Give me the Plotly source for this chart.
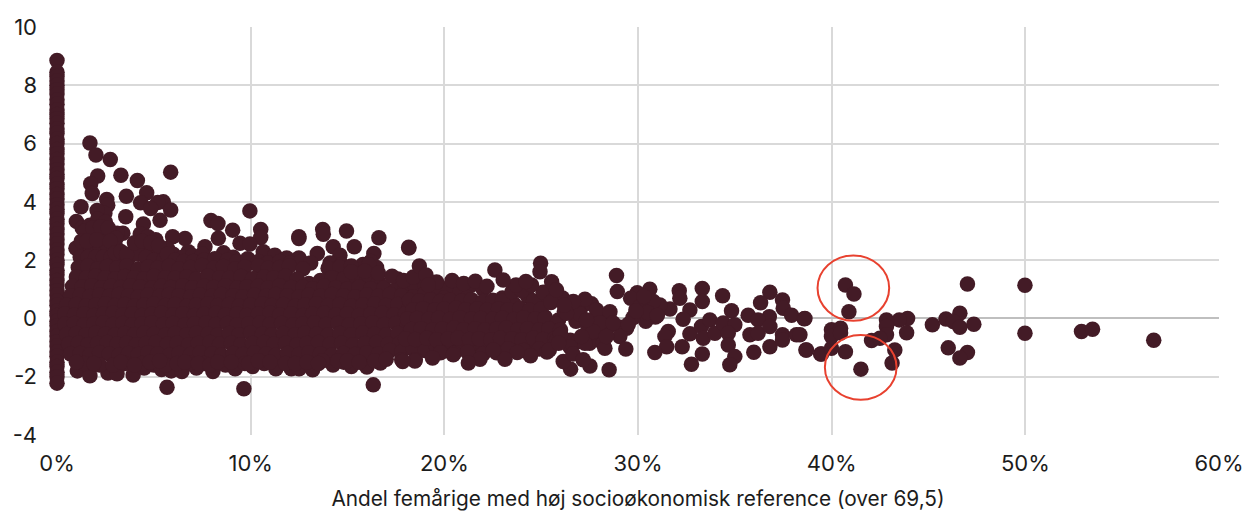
import plotly.graph_objects as go

x_tick_vals = [0, 10, 20, 30, 40, 50, 60]
x_tick_text = ["0%", "10%", "20%", "30%", "40%", "50%", "60%"]
y_tick_vals = [-4, -2, 0, 2, 4, 6, 8, 10]
y_tick_text = ["-4", "-2", "0", "2", "4", "6", "8", "10"]
x_title = "Andel femårige med høj socioøkonomisk reference (over 69,5)"

# schools with no share at all: the column at 0%
y_zero = [8.85, 8.45, 8.3, 8.15, 8.0, 7.85, 7.7, 7.5, 7.35, 7.15, 7.0, 6.85, 6.7, 6.5, 6.35, 6.15, 6.0, 5.8,
          5.65, 5.45, 5.3, 5.1, 4.95, 4.8, 4.6, 4.45, 4.25, 4.1, 3.9, 3.75, 3.6, 3.4, 3.25, 3.05, 2.9, 2.7,
          2.55, 2.35, 2.2, 2.0, 1.85, 1.65, 1.5, 1.3, 1.15, 0.95, 0.8, 0.6, 0.45, 0.25, 0.1, -0.1, -0.25, -0.45,
          -0.6, -0.8, -0.95, -1.15, -1.3, -1.5, -1.65, -1.85, -2.0, -2.22]
x_zero = [0] * len(y_zero)

# isolated points above the main mass
x_upper = [1.70, 2.01, 2.75, 2.10, 1.74, 1.82, 3.30, 4.15, 5.87, 4.63, 3.58, 2.57, 4.32, 5.49, 5.2, 2.62, 1.24, 4.84,
           5.87, 3.55, 5.32, 2.47, 2.07, 9.96, 7.95, 8.31, 9.07, 10.52, 10.52, 1.0, 4.46, 2.4, 13.72, 13.75, 14.95,
           12.49, 12.49, 16.62, 18.17, 14.26, 15.35, 16.36, 13.44, 14.61, 10.65, 11.25, 11.86, 12.49, 9.96, 6.61,
           5.97, 7.64, 8.33, 9.45, 9.96, 6.78, 3.4, 3.1]
y_upper = [6.02, 5.61, 5.45, 4.89, 4.62, 4.29, 4.91, 4.73, 5.02, 4.31, 4.19, 4.08, 3.97, 4.00, 3.98, 3.88, 3.83, 3.77,
           3.72, 3.49, 3.37, 3.6, 3.7, 3.69, 3.36, 3.26, 3.03, 3.05, 2.78, 3.33, 3.24, 3.1, 3.05, 2.89, 3.0,
           2.8, 2.74, 2.77, 2.42, 2.46, 2.46, 2.23, 2.23, 2.17, 2.29, 2.17, 2.07, 2.07, 1.94, 2.74,
           2.8, 2.46, 2.75, 2.58, 2.55, 2.29, 2.92, 2.92]

# left top cluster
x_cluster = [1.3, 1.7, 2.1, 2.5, 1.5, 1.9, 2.3, 2.7, 3.0, 1.4, 1.8, 2.2, 2.6, 0.98, 3.7, 1.2, 1.6, 2.0, 2.4, 2.8, 3.2,
             4.3, 4.7, 5.1, 4.5, 4.9, 5.3, 5.7, 4.2, 4.6, 5.0, 5.5, 6.0, 6.5, 7.0, 7.5, 8.0, 8.6, 9.1, 6.3, 7.2, 8.4,
             1.45, 1.85, 2.25, 2.65, 3.05, 1.25, 1.55, 2.05, 2.75, 3.0, 3.3, 3.6, 4.0, 4.4, 4.85, 5.25, 5.7, 6.1, 6.55,
             7.05, 7.6, 8.15, 8.8, 9.3, 9.85, 10.4, 10.9, 11.5, 12.05, 12.6, 13.1, 14.1, 14.7, 15.8, 16.2, 16.5]
y_cluster = [3.1, 3.2, 3.4, 3.3, 2.8, 2.9, 2.9, 2.9, 2.5, 2.45, 2.5, 2.5, 2.5, 2.41, 2.07, 2.1, 2.1, 2.1, 2.1, 2.1, 2.0,
             2.9, 2.8, 2.7, 2.5, 2.4, 2.3, 2.4, 2.2, 2.1, 2.0, 2.0, 2.2, 2.1, 2.15, 2.2, 2.0, 2.25, 2.1, 1.9, 1.85, 1.9,
             3.0, 3.1, 3.15, 3.1, 2.75, 2.65, 2.65, 2.7, 2.65, 2.25, 2.3, 2.2, 2.6, 2.65, 2.6, 2.5, 2.2, 2.0, 1.95,
             1.95, 2.0, 2.05, 2.0, 1.95, 2.05, 1.95, 1.9, 1.95, 1.9, 1.95, 1.9, 1.9, 1.85, 1.85, 1.95, 1.75]

# main mass, read band by band from top to bottom
x_mass_a = [1.1, 1.6, 2.1, 2.6, 3.1, 3.6, 4.2, 4.7, 5.2, 5.8, 6.3, 6.9, 7.5, 8.1, 8.6, 9.2, 9.7, 10.4, 10.9, 11.5,
            12.0, 12.7, 14.0, 14.6, 15.2, 16.1, 1.0, 1.5, 2.0, 2.5, 3.0, 3.5, 4.0, 4.5, 5.0, 5.6, 6.1, 6.7, 7.2,
            7.8, 8.4, 8.9, 9.5, 10.1, 10.7, 11.2, 11.8, 12.4, 13.0, 13.6, 14.2, 14.8, 15.5, 16.0, 16.6, 17.6]
y_mass_a = [1.75, 1.8, 1.7, 1.78, 1.72, 1.8, 1.7, 1.76, 1.72, 1.8, 1.7, 1.75, 1.82, 1.72, 1.78, 1.7, 1.76, 1.8, 1.72,
            1.75, 1.8, 1.7, 1.72, 1.76, 1.8, 1.83, 1.42, 1.38, 1.45, 1.4, 1.35, 1.44, 1.4, 1.36, 1.45, 1.4, 1.38, 1.42,
            1.35, 1.45, 1.4, 1.38, 1.44, 1.36, 1.42, 1.4, 1.45, 1.35, 1.2, 1.3, 1.4, 1.35, 1.3, 1.38, 1.25, 1.35]
x_mass_b = [0.8, 1.3, 1.8, 2.3, 2.8, 3.3, 3.8, 4.3, 4.9, 5.4, 5.9, 6.5, 7.0, 7.6, 8.1, 8.7, 9.3, 9.8, 10.4, 10.9,
            11.5, 12.1, 12.7, 13.2, 13.8, 14.4, 15.0, 15.6, 16.2, 16.9, 17.5, 18.0, 18.5, 19.0, 0.7, 1.2, 1.7, 2.2,
            2.7, 3.2, 3.7, 4.2, 4.7, 5.3, 5.8, 6.3, 6.9, 7.4, 8.0, 8.5, 9.1, 9.6, 10.2, 10.8, 11.3, 11.9, 12.5,
            13.0, 13.6, 14.2, 14.8, 15.4, 16.0, 16.6, 17.2, 17.8, 18.4, 19.0, 19.6, 20.2, 20.8, 21.4, 22.0]
y_mass_b = [1.1, 1.08, 1.12, 1.05, 1.1, 1.06, 1.12, 1.08, 1.04, 1.1, 1.06, 1.12, 1.05, 1.1, 1.06, 1.12, 1.04, 1.08, 1.1,
            1.05, 1.12, 1.06, 1.08, 1.02, 1.1, 1.05, 1.0, 1.08, 1.02, 1.05, 0.98, 1.05, 1.1, 1.15, 0.78, 0.8, 0.75, 0.8,
            0.76, 0.82, 0.78, 0.74, 0.8, 0.76, 0.82, 0.78, 0.74, 0.8, 0.76, 0.82, 0.78, 0.74, 0.8, 0.76, 0.82, 0.78, 0.74,
            0.8, 0.76, 0.82, 0.78, 0.74, 0.8, 0.76, 0.82, 0.78, 0.74, 0.85, 0.95, 1.05, 0.9, 1.15, 1.0]
x_mass_c = [0.5, 1.0, 1.5, 2.0, 2.5, 3.0, 3.5, 4.0, 4.5, 5.0, 5.6, 6.1, 6.7, 7.2, 7.8, 8.3, 8.9, 9.4, 10.0, 10.6,
            11.1, 11.7, 12.3, 12.8, 13.4, 14.0, 14.6, 15.2, 15.8, 16.4, 17.0, 17.6, 18.2, 18.8, 19.4, 20.0, 20.6,
            21.2, 21.8, 22.4, 23.0, 23.6, 24.3, 24.9, 25.5, 0.4, 0.9, 1.4, 1.9, 2.4, 2.9, 3.4, 3.9, 4.4, 4.9, 5.4,
            6.0, 6.5, 7.1, 7.6, 8.2, 8.7, 9.3, 9.8, 10.4, 11.0, 11.5, 12.1, 12.7, 13.2, 13.8, 14.4, 15.0, 15.6,
            16.2, 16.8, 17.4, 18.0, 18.6, 19.2, 19.8, 20.4, 21.0, 21.6, 22.2, 22.8, 23.4, 24.0, 24.6, 25.2]
y_mass_c = [0.45, 0.48, 0.42, 0.46, 0.5, 0.44, 0.48, 0.42, 0.46, 0.5, 0.44, 0.48, 0.42, 0.46, 0.5, 0.44, 0.48, 0.42, 0.46,
            0.5, 0.44, 0.48, 0.42, 0.46, 0.5, 0.44, 0.48, 0.42, 0.46, 0.5, 0.44, 0.48, 0.42, 0.46, 0.5, 0.7, 0.48, 0.72,
            0.5, 0.46, 0.7, 0.5, 0.75, 0.5, 0.8, 0.15, 0.12, 0.16, 0.1, 0.14, 0.18, 0.12, 0.16, 0.1, 0.14, 0.18, 0.12, 0.16,
            0.1, 0.14, 0.18, 0.12, 0.16, 0.1, 0.14, 0.18, 0.12, 0.16, 0.1, 0.14, 0.18, 0.12, 0.16, 0.1, 0.14, 0.18, 0.12,
            0.16, 0.1, 0.14, 0.18, 0.12, 0.16, 0.1, 0.14, 0.18, 0.12, 0.16, 0.1, 0.05]
x_mass_d = [0.4, 0.9, 1.4, 1.9, 2.4, 2.9, 3.4, 3.9, 4.4, 4.9, 5.5, 6.0, 6.6, 7.1, 7.7, 8.2, 8.8, 9.3, 9.9, 10.5,
            11.0, 11.6, 12.2, 12.7, 13.3, 13.9, 14.5, 15.1, 15.7, 16.3, 16.9, 17.5, 18.1, 18.7, 19.3, 19.9, 20.5,
            21.1, 21.7, 22.3, 22.9, 23.5, 24.1, 24.7, 25.3, 25.9, 0.5, 1.0, 1.5, 2.0, 2.5, 3.0, 3.5, 4.0, 4.5, 5.0,
            5.6, 6.1, 6.7, 7.2, 7.8, 8.3, 8.9, 9.4, 10.0, 10.6, 11.1, 11.7, 12.3, 12.8, 13.4, 14.0, 14.6, 15.2,
            15.8, 16.4, 17.0, 17.6, 18.2, 18.8, 19.4, 20.0, 20.6, 21.2, 21.8, 22.4, 23.0, 23.6, 24.2, 24.8, 25.4]
y_mass_d = [-0.2, -0.17, -0.22, -0.18, -0.15, -0.21, -0.17, -0.22, -0.18, -0.15, -0.21, -0.17, -0.22, -0.18, -0.15, -0.21,
            -0.17, -0.22, -0.18, -0.15, -0.21, -0.17, -0.22, -0.18, -0.15, -0.21, -0.17, -0.22, -0.18, -0.15, -0.21, -0.17,
            -0.22, -0.18, -0.15, -0.21, -0.17, -0.22, -0.18, -0.15, -0.21, -0.17, -0.22, -0.18, -0.15, -0.05,
            -0.55, -0.52, -0.56, -0.5, -0.54, -0.57, -0.52, -0.56, -0.5, -0.54, -0.57, -0.52, -0.56, -0.5, -0.54, -0.57,
            -0.52, -0.56, -0.5, -0.54, -0.57, -0.52, -0.56, -0.5, -0.54, -0.57, -0.52, -0.56, -0.5, -0.54, -0.57, -0.52,
            -0.56, -0.5, -0.54, -0.57, -0.52, -0.56, -0.5, -0.54, -0.57, -0.52, -0.56, -0.5, -0.54]
x_mass_e = [0.6, 1.1, 1.6, 2.1, 2.6, 3.1, 3.6, 4.1, 4.6, 5.1, 5.7, 6.2, 6.8, 7.3, 7.9, 8.4, 9.0, 9.5, 10.1, 10.7,
            11.2, 11.8, 12.4, 12.9, 13.5, 14.1, 14.7, 15.3, 15.9, 16.5, 17.1, 17.7, 18.3, 18.9, 19.5, 20.1, 20.7,
            21.3, 21.9, 22.5, 23.1, 23.7, 24.3, 24.9, 0.7, 1.2, 1.7, 2.2, 2.7, 3.2, 3.7, 4.2, 4.7, 5.2, 5.8, 6.3,
            6.9, 7.4, 8.0, 8.5, 9.1, 9.6, 10.2, 10.8, 11.3, 11.9, 12.5, 13.0, 13.6, 14.2, 14.8, 15.4, 16.0, 16.6,
            17.2, 17.8, 18.4, 19.0, 19.6, 20.2, 20.8, 21.4, 22.0, 22.6]
y_mass_e = [-0.88, -0.85, -0.9, -0.86, -0.83, -0.89, -0.85, -0.9, -0.86, -0.83, -0.89, -0.85, -0.9, -0.86, -0.83, -0.89,
            -0.85, -0.9, -0.86, -0.83, -0.89, -0.85, -0.9, -0.86, -0.83, -0.89, -0.85, -0.9, -0.86, -0.83, -0.89, -0.85,
            -0.9, -0.86, -0.83, -0.89, -0.85, -0.9, -0.86, -0.83, -0.89, -0.85, -0.9, -0.86,
            -1.22, -1.2, -1.25, -1.18, -1.22, -1.26, -1.2, -1.24, -1.18, -1.22, -1.26, -1.2, -1.24, -1.18, -1.22, -1.26,
            -1.2, -1.24, -1.18, -1.22, -1.26, -1.2, -1.24, -1.18, -1.22, -1.26, -1.2, -1.24, -1.18, -1.22, -1.1, -1.15,
            -1.05, -1.1, -1.0, -1.1, -1.05, -1.0, -1.05, -0.95]

# further points between 13% and 31%, where the mass stays dense
x_dense = [18.2, 18.7, 19.3, 19.8, 20.3, 20.9, 21.4, 22.0, 22.5, 23.0, 23.5, 24.0, 24.6, 25.1, 25.6, 26.1,
           18.4, 18.9, 19.5, 20.0, 20.6, 21.1, 21.7, 22.2, 22.8, 23.3, 23.9, 24.4, 25.0, 25.5,
           18.1, 18.6, 19.2, 19.7, 20.3, 20.8, 21.4, 21.9, 22.5, 23.0, 23.6, 24.1, 24.7, 25.2, 25.8, 26.2,
           18.3, 18.8, 19.4, 19.9, 20.5, 21.0, 21.6, 22.1, 22.7, 23.2, 23.8, 24.3, 24.9, 25.4, 26.0,
           18.0, 18.5, 19.1, 19.6, 20.2, 20.7, 21.3, 21.8, 22.4, 22.9, 23.5, 24.0, 24.6, 25.1, 25.7,
           19.8, 20.5, 21.2, 22.0, 22.7, 23.3, 24.1, 24.9, 25.3, 25.8,
           26.6, 27.1, 27.6, 28.1, 26.8, 27.4, 27.9, 28.4, 26.5, 27.0, 28.0, 29.1, 26.9, 27.5, 28.2, 29.9, 30.4, 30.9,
           15.2, 15.9, 16.6, 17.3, 17.9, 18.4, 19.6, 20.4, 21.0, 21.6, 22.2, 23.7, 24.5]
y_dense = [0.62, 0.6, 0.64, 0.58, 0.62, 0.6, 0.64, 0.58, 0.62, 0.6, 0.92, 0.95, 0.6, 0.9, 0.62, 0.7,
           0.3, 0.33, 0.29, 0.32, 0.35, 0.3, 0.33, 0.28, 0.32, 0.3, 0.34, 0.28, 0.32, 0.55,
           -0.02, 0.0, -0.03, 0.01, -0.04, 0.02, -0.02, 0.0, -0.03, 0.01, -0.04, 0.02, -0.02, 0.0, -0.2, 0.25,
           -0.38, -0.35, -0.4, -0.36, -0.33, -0.39, -0.35, -0.4, -0.36, -0.33, -0.39, -0.35, -0.4, -0.36, -0.4,
           -0.7, -0.72, -0.68, -0.73, -0.7, -0.67, -0.72, -0.7, -0.74, -0.68, -0.7, -0.73, -0.68, -0.72, -0.7,
           -1.18, -1.2, -1.15, -1.22, -1.18, -1.05, -1.1, -1.05, -1.15, -0.75,
           0.4, 0.42, 0.5, 0.08, -0.1, -0.25, 0.1, -0.35, -0.75, 0.15, -0.75, -0.3, -0.8, -0.85, -0.85, 0.3, -0.1, 0.05,
           1.6, 1.62, 1.55, 1.45, 1.3, 1.42, 1.25, 1.3, 1.2, 1.28, 1.1, 1.15, 1.15]

# bottom edge of the mass
x_bottom = [1.05, 1.7, 2.63, 3.1, 3.93, 4.5, 5.0, 5.4, 5.9, 6.45, 7.2, 8.05, 8.7, 9.2, 10.1, 10.7, 11.3, 12.1, 12.5,
            13.2, 14.25, 14.8, 15.2, 16.0, 16.7, 17.8, 18.5, 1.4, 2.2, 3.5, 4.4, 5.6, 6.9, 7.6, 9.7, 11.8, 13.7,
            5.68, 9.65, 16.33,
            1.0, 1.9, 2.9, 3.3, 4.0, 4.8, 5.3, 6.2, 6.6, 7.3, 7.9, 8.3, 9.0, 9.9, 10.4, 11.0, 12.3, 12.9, 13.5, 14.5,
            15.0, 15.6, 16.4, 17.0]
y_bottom = [-1.8, -1.97, -1.87, -1.9, -1.94, -1.7, -1.6, -1.75, -1.8, -1.82, -1.7, -1.82, -1.6, -1.73, -1.65, -1.55, -1.73,
            -1.73, -1.73, -1.76, -1.6, -1.5, -1.65, -1.67, -1.53, -1.42, -1.42, -1.55, -1.6, -1.55, -1.55, -1.6, -1.55,
            -1.55, -1.55, -1.55, -1.45, -2.36, -2.41, -2.28,
            -1.5, -1.55, -1.6, -1.5, -1.6, -1.5, -1.45, -1.55, -1.5, -1.55, -1.6, -1.5, -1.5, -1.55, -1.45, -1.5, -1.55,
            -1.5, -1.55, -1.45, -1.45, -1.5, -1.45, -1.4]

# tail read point by point
x_mid = [18.16, 18.71, 19.05, 19.17, 22.61, 23.04, 24.97, 24.94, 24.21, 25.54, 25.79, 28.89, 28.93, 30.61, 29.96, 29.62,
         32.13, 32.16, 33.32, 33.32, 34.37, 36.81, 36.33, 37.46, 37.5, 37.93, 38.58, 35.69, 34.83, 36.78, 36.2, 31.65,
         32.68, 32.33, 31.13, 30.79, 30.1, 29.74, 29.41, 29.06, 31.56, 31.39, 31.48, 30.87, 32.28, 32.76, 33.32, 32.68,
         33.28, 33.71, 33.37, 33.97, 34.4, 35.0, 34.66, 34.66, 35.0, 34.74, 35.78, 35.98, 36.81, 36.2, 36.81, 37.46,
         37.46, 38.18, 38.67, 39.43, 28.51, 27.52, 26.52, 26.14, 24.45, 23.76, 23.13, 21.84, 21.24, 20.46, 19.39, 18.48,
         17.85, 22.53, 28.29, 29.37, 27.26, 26.48, 26.64, 27.17, 25.42, 27.26, 26.66, 27.86, 28.55, 26.31, 28.03, 28.72,
         27.69, 28.37, 27.08, 27.34, 26.0, 25.9, 26.2, 30.5, 30.3, 29.9, 29.5, 31.0]
y_mid = [2.44, 1.80, 1.49, 1.15, 1.66, 1.32, 1.89, 1.60, 1.27, 1.26, 0.98, 1.47, 0.92, 1.0, 0.88, 0.69,
         0.95, 0.69, 1.03, 0.58, 0.78, 0.90, 0.54, 0.63, 0.35, 0.11, -0.01, 0.11, 0.26, 0.06, -0.05, 0.32,
         0.29, -0.03, 0.46, 0.58, 0.4, 0.02, -0.34, -0.62, -0.45, -0.62, -0.97, -1.17, -0.97, -1.57, -1.22, -0.53,
         -0.28, -0.05, -0.68, -0.51, -0.16, -0.22, -0.51, -0.91, -1.31, -1.59, -0.56, -1.16, -0.97, -0.51, -0.28, -0.56,
         -0.74, -0.56, -1.08, -1.22, -1.76, -1.63, -1.74, -1.48, -1.28, -1.17, -1.40, -1.40, -1.53, -1.25, -1.36, -1.46,
         -1.48, -1.08, -1.02, -1.05, -0.85, -0.97, -1.22, -1.42, -1.08, 0.66, 0.58, 0.29, 0.23, 0.18, -0.15, -0.16,
         -0.45, -0.62, -0.62, -0.05, -0.55, -0.85, 0.45, 0.2, 0.75, 0.25, -0.2, 0.1]

x_far = [40.71, 41.15, 40.89, 47.01, 49.98, 49.98, 52.9, 53.47, 56.63, 46.02, 47.01, 46.62, 45.2, 45.9, 46.62, 46.28,
         46.62, 47.34, 43.92, 43.49, 42.83, 43.87, 42.83, 42.83, 42.06, 42.49, 43.26, 43.12, 41.51, 40.71, 39.48, 38.7,
         38.62, 39.99, 39.99, 40.46, 39.99, 40.46, 38.36]
y_far = [1.15, 0.84, 0.23, 1.18, 1.14, -0.51, -0.45, -0.37, -0.75, -1.01, -1.17, -1.36, -0.22, -0.02, 0.18, -0.11,
         -0.30, -0.2, 0.0, -0.05, -0.05, -0.49, -0.28, -0.56, -0.76, -0.68, -1.08, -1.53, -1.74, -1.14, -1.22, -1.08,
         0.0, -1.02, -0.39, -0.34, -0.62, -0.5, -0.56]

x_all = x_zero + x_upper + x_cluster + x_mass_a + x_mass_b + x_mass_c + x_mass_d + x_mass_e + x_dense + x_bottom + x_mid + x_far
y_all = y_zero + y_upper + y_cluster + y_mass_a + y_mass_b + y_mass_c + y_mass_d + y_mass_e + y_dense + y_bottom + y_mid + y_far

ink = "#431b26"
grid = "#d9d9d9"
red = "#e8412f"
font_family = "Inter, Liberation Sans, sans-serif"
text_color = "#1c1c1c"

fig = go.Figure(go.Scatter(
    x=x_all, y=y_all, mode="markers", cliponaxis=False,
    marker=dict(size=15.5, color=ink, line=dict(width=0)), hoverinfo="skip", showlegend=False))

fig.update_layout(
    width=1247, height=511, autosize=False,
    margin=dict(l=57, r=28, t=27, b=75.5, pad=0),
    paper_bgcolor="white", plot_bgcolor="white",
    font=dict(family=font_family, size=22, color=text_color),
    shapes=[
        dict(type="circle", xref="x", yref="y", x0=39.27, x1=42.97, y0=-0.08, y1=2.16,
             line=dict(color=red, width=2)),
        dict(type="circle", xref="x", yref="y", x0=39.65, x1=43.35, y0=-2.79, y1=-0.565,
             line=dict(color=red, width=2)),
    ],
)
fig.update_xaxes(range=[0, 60], tickvals=x_tick_vals, ticktext=x_tick_text, showgrid=True, gridcolor=grid, gridwidth=2,
                 zeroline=False, showline=False, ticks="", ticklen=0, tickfont=dict(size=22),
                 ticklabelstandoff=13, automargin=False,
                 title=dict(text=x_title, font=dict(size=20.8), standoff=16))
fig.update_yaxes(range=[-4, 10], tickvals=y_tick_vals, ticktext=y_tick_text, showgrid=True, gridcolor=grid, gridwidth=2,
                 zeroline=True, zerolinecolor="#bfbfbf", zerolinewidth=2, showline=False, ticks="",
                 ticklabelstandoff=19, automargin=False, tickfont=dict(size=22))

fig.write_html("out.html", config={"displayModeBar": False}, post_script="document.body.style.margin='0';")
